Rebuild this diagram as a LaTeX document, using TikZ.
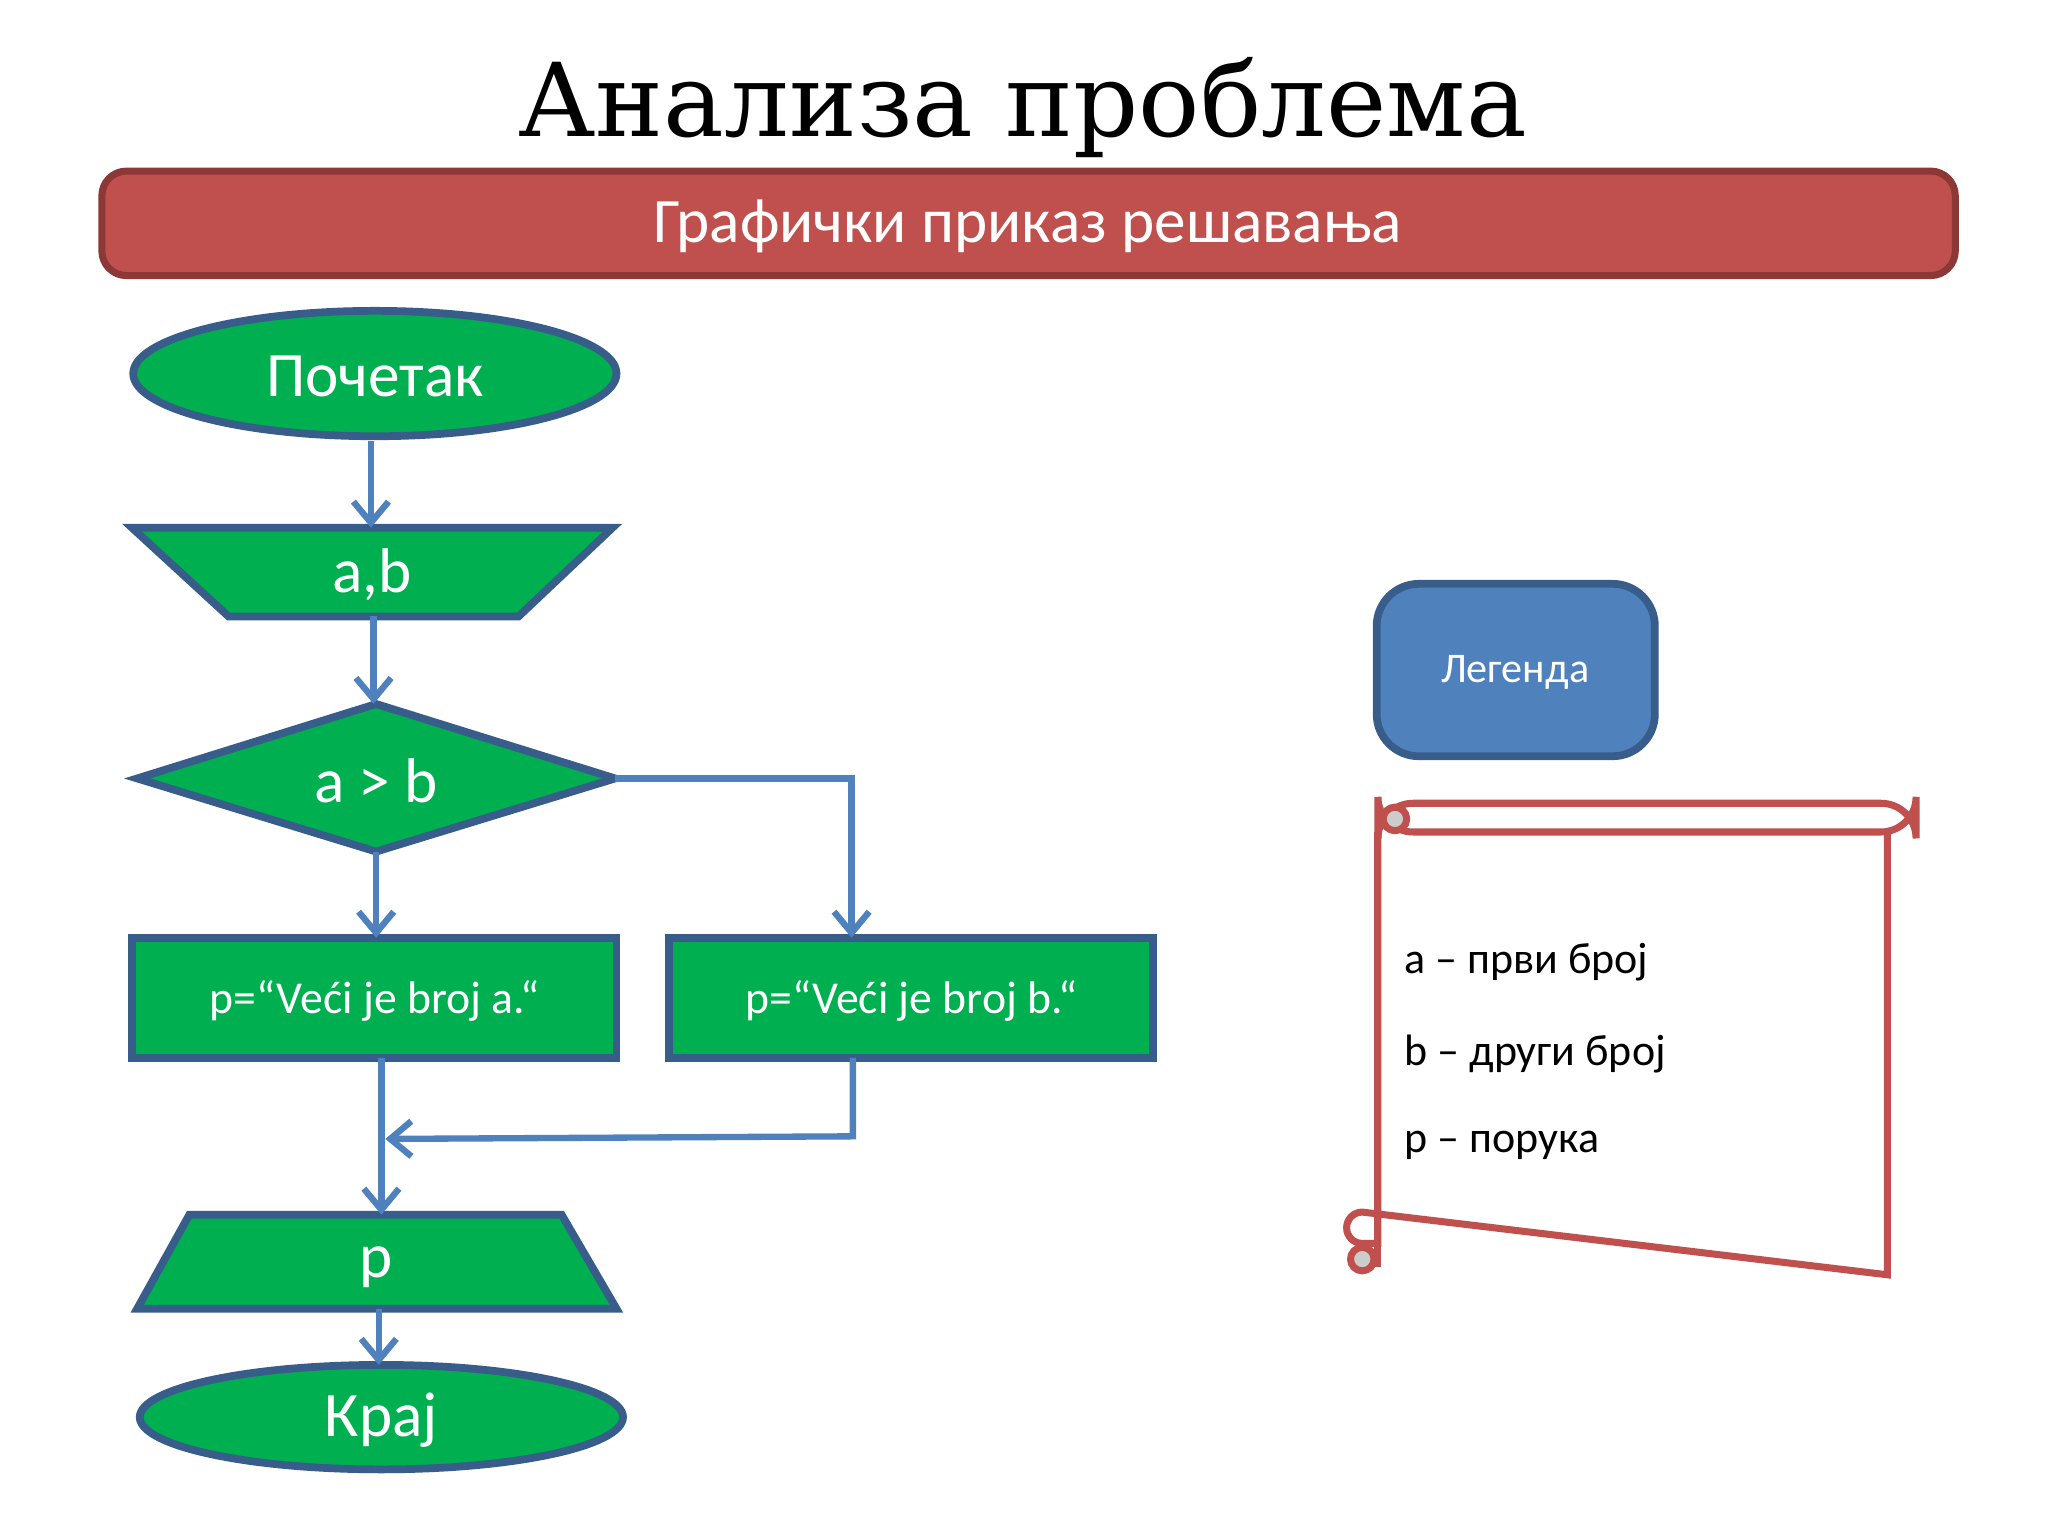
\documentclass[tikz,border=0pt]{standalone}
\usepackage{fontspec}
\setmainfont{Carlito}
\newfontfamily\titlefont{DejaVu Serif}
\usetikzlibrary{arrows.meta}
\definecolor{gr}{HTML}{00B050}
\definecolor{bd}{HTML}{385D8A}
\definecolor{ln}{HTML}{4F81BD}
\definecolor{rd}{HTML}{C0504D}
\definecolor{rdd}{HTML}{8C3836}
\tikzset{shp/.style={fill=gr,draw=bd,line width=2.2pt},
 lbl/.style={text=white,font=\fontsize{18}{20}\selectfont},
 conn/.style={draw=ln,line width=1.8pt,-{Straight Barb[length=6pt,width=10pt]}},
 seg/.style={draw=ln,line width=1.8pt}}
\begin{document}
\begin{tikzpicture}[x=0.01306cm,y=-0.01306cm]
\useasboundingbox (0,0) rectangle (1568,1176);
\fill[white] (0,0) rectangle (1568,1176);
\node (title) at (783,82) {\titlefont\fontsize{29}{32}\selectfont Анализа проблема};
\draw[fill=rd,draw=rdd,line width=2pt,rounded corners=7pt] (78,131) rectangle (1497,211);
\node[text=white,font=\fontsize{18}{20}\selectfont] (sub) at (787,173) {Графички приказ решавања};
% start
\draw[shp] (287,286) ellipse (185 and 48);
\node[lbl] (start) at (287,288) {Почетак};
% input
\draw[shp] (101,404) -- (469,404) -- (397,472) -- (175,472) -- cycle;
\node[lbl] (in) at (285,440) {a,b};
% decision
\draw[shp] (105,596) -- (288,539) -- (471,596) -- (288,652) -- cycle;
\node[lbl] (dec) at (288,598) {a > b};
% boxes
\draw[shp] (101,718) rectangle (472,810);
\node[text=white,font=\fontsize{13}{15}\selectfont] (ba) at (287,766) {p=“Veći je broj a.“};
\draw[shp] (512,718) rectangle (883,810);
\node[text=white,font=\fontsize{13}{15}\selectfont] (bb) at (698,766) {p=“Veći je broj b.“};
% output
\draw[shp] (145,930) -- (430,930) -- (472,1002) -- (105,1002) -- cycle;
\node[lbl] (out) at (288,970) {p};
% end
\draw[shp] (292,1085) ellipse (185 and 40);
\node[lbl] (end) at (292,1087) {Крај};
% connectors
\coordinate (s1) at (284,338); \coordinate (s2) at (284,404);
\coordinate (i1) at (286,472); \coordinate (i2) at (286,539);
\coordinate (d1) at (288,652); \coordinate (d2) at (288,718);
\coordinate (dr) at (471,596); \coordinate (dc) at (652,596); \coordinate (b2t) at (652,718);
\coordinate (a1) at (292,810); \coordinate (o1) at (292,930);
\coordinate (b2b) at (653,810); \coordinate (b2c) at (653,870); \coordinate (m) at (295,872);
\coordinate (o2) at (290,1002); \coordinate (e1) at (290,1045);
\draw[conn] (s1) -- (s2);
\draw[conn] (i1) -- (i2);
\draw[conn] (d1) -- (d2);
\draw[conn] (dr) -- (dc) -- (b2t);
\draw[conn] (a1) -- (o1);
\draw[conn] (b2b) -- (b2c) -- (m);
\draw[conn] (o2) -- (e1);
% legend
\draw[fill=ln,draw=bd,line width=2.2pt,rounded corners=12pt] (1054,447) rectangle (1267,579);
\node[text=white,font=\fontsize{12}{14}\selectfont] (leg) at (1160,515) {Легенда};
% scroll
\begin{scope}[draw=rd,line width=2pt]
\draw[fill=white] (1055,637) -- (1055,952) -- (1043,952) arc (90:270:12) -- (1445,976) -- (1445,637);
\draw[fill=white,rounded corners=10pt] (1055,615) rectangle (1467,637);
\draw[fill=gray!40] (1068,627) circle (9);
\draw[fill=gray!40] (1043,964) circle (9);
\draw (1055,637) -- (1055,970);
\end{scope}
\node[anchor=west,font=\fontsize{12.5}{14}\selectfont] (l1) at (1066,737) {a – први број};
\node[anchor=west,font=\fontsize{12.5}{14}\selectfont] (l2) at (1066,807) {b – други број};
\node[anchor=west,font=\fontsize{12.5}{14}\selectfont] (l3) at (1066,877) {p – порука};
\end{tikzpicture}
\end{document}
